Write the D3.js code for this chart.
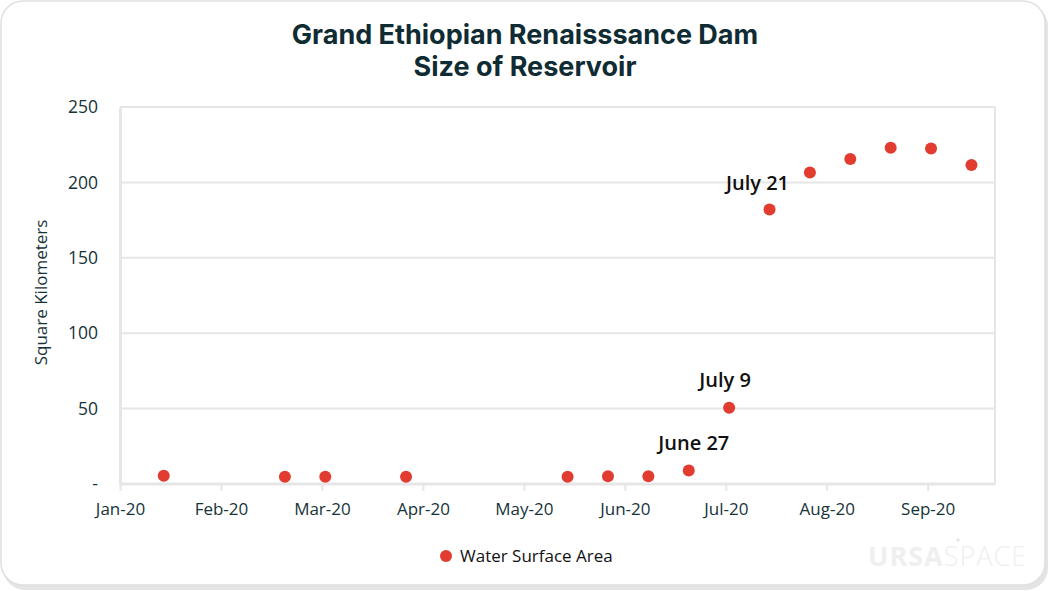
<!DOCTYPE html>
<html>
<head>
<meta charset="utf-8">
<script src="https://cdn.jsdelivr.net/npm/d3@7"></script>
<style>
  body { margin: 0; background: #fff; }
  svg { display: block; }
</style>
</head>
<body>
<div id="chart"></div>
<script>
const W = 1050, H = 591
const MARGIN = { TOP: 107, BOTTOM: 107, LEFT: 120, RIGHT: 55 }
const WIDTH = W - MARGIN.LEFT - MARGIN.RIGHT
const HEIGHT = H - MARGIN.TOP - MARGIN.BOTTOM

// data (12-day satellite cadence)
const dates = ["2020-01-23", "2020-02-28", "2020-03-11", "2020-04-04", "2020-05-22",
  "2020-06-03", "2020-06-15", "2020-06-27", "2020-07-09", "2020-07-21",
  "2020-08-02", "2020-08-14", "2020-08-26", "2020-09-07", "2020-09-19"]
const area = [5.5, 4.8, 4.8, 4.8, 4.8, 5.2, 5.2, 9, 50.5, 182, 206.5, 215.5, 223, 222.5, 211.5]
const tickDates = ["2020-01-10", "2020-02-09", "2020-03-10", "2020-04-09", "2020-05-09",
  "2020-06-08", "2020-07-08", "2020-08-07", "2020-09-06"]
const yTicks = [0, 50, 100, 150, 200, 250]
const notes = [
  { date: "2020-06-27", label: "June 27" },
  { date: "2020-07-09", label: "July 9" },
  { date: "2020-07-21", label: "July 21" }
]

const parse = d3.timeParse("%Y-%m-%d")
const data = dates.map((d, i) => ({ date: parse(d), value: area[i] }))

const RED = "#e23b30"
const INK = "#163339"
const AXIS_FONT = "'Open Sans', sans-serif"

const svg = d3.select("#chart").append("svg")
  .attr("width", W)
  .attr("height", H)

// card with soft shadow
svg.append("rect")
  .attr("x", 3).attr("y", 4).attr("width", W - 5).attr("height", H - 5)
  .attr("rx", 22).attr("fill", "#e4e4e4")
svg.append("rect")
  .attr("x", 1).attr("y", 1).attr("width", W - 6).attr("height", H - 7)
  .attr("rx", 22).attr("fill", "#fff").attr("stroke", "#e0e0e0").attr("stroke-width", 1.5)

svg.append("text")
  .attr("x", 525).attr("y", 44)
  .attr("text-anchor", "middle")
  .attr("font-family", "Inter, sans-serif")
  .attr("font-weight", 700)
  .attr("font-size", "27px")
  .attr("fill", "#0f2b33")
  .selectAll("tspan")
  .data(["Grand Ethiopian Renaisssance Dam", "Size of Reservoir"])
  .join("tspan")
    .attr("x", 525)
    .attr("dy", (d, i) => i ? 32 : 0)
    .text(d => d)

const g = svg.append("g")
  .attr("transform", `translate(${MARGIN.LEFT}, ${MARGIN.TOP})`)

const x = d3.scaleTime()
  .domain([parse("2020-01-10"), parse("2020-09-26")])
  .range([0, WIDTH])

const y = d3.scaleLinear()
  .domain([0, 250])
  .range([HEIGHT, 0])

// gridlines
g.append("g")
  .selectAll("line")
  .data(yTicks.filter(d => d > 0))
  .join("line")
    .attr("x1", 0).attr("x2", WIDTH)
    .attr("y1", d => y(d)).attr("y2", d => y(d))
    .attr("stroke", "#e6e6e6").attr("stroke-width", 2)

g.append("line")
  .attr("x1", WIDTH).attr("x2", WIDTH).attr("y1", 0).attr("y2", HEIGHT)
  .attr("stroke", "#e6e6e6").attr("stroke-width", 2)

const yAxisCall = d3.axisLeft(y)
  .tickValues(yTicks)
  .tickSize(0)
  .tickPadding(22)
  .tickFormat(d => d === 0 ? "-" : d)

const yAxisGroup = g.append("g").call(yAxisCall)
yAxisGroup.select(".domain").attr("stroke", "#e6e6e6").attr("stroke-width", 3)
yAxisGroup.selectAll("text")
  .attr("font-family", AXIS_FONT).attr("font-size", "17.5px").attr("fill", INK)

const xAxisCall = d3.axisBottom(x)
  .tickValues(tickDates.map(parse))
  .tickSize(7)
  .tickPadding(12)
  .tickFormat(d3.timeFormat("%b-%y"))

const xAxisGroup = g.append("g")
  .attr("transform", `translate(0, ${HEIGHT})`)
  .call(xAxisCall)
xAxisGroup.select(".domain").attr("stroke", "#e6e6e6").attr("stroke-width", 3)
  .attr("d", `M0,0H${WIDTH}`)
xAxisGroup.selectAll(".tick line").attr("stroke", "#e6e6e6").attr("stroke-width", 2)
xAxisGroup.selectAll("text")
  .attr("font-family", AXIS_FONT).attr("font-size", "17px").attr("fill", INK)

g.append("text")
  .attr("x", -(HEIGHT / 2) + 3)
  .attr("y", -73)
  .attr("transform", "rotate(-90)")
  .attr("text-anchor", "middle")
  .attr("font-family", AXIS_FONT)
  .attr("font-size", "17px")
  .attr("fill", INK)
  .text("Square Kilometers")

g.selectAll("circle.pt")
  .data(data)
  .join("circle")
    .attr("class", "pt")
    .attr("cx", d => x(d.date))
    .attr("cy", d => y(d.value))
    .attr("r", 6)
    .attr("fill", RED)

// annotations
const lookup = new Map(data.map(d => [+d.date, d.value]))
const noteOffset = { "June 27": [5, -20], "July 9": [-4, -21], "July 21": [-12, -20] }
g.selectAll("text.note")
  .data(notes)
  .join("text")
    .attr("class", "note")
    .attr("x", d => x(parse(d.date)) + noteOffset[d.label][0])
    .attr("y", d => y(lookup.get(+parse(d.date))) + noteOffset[d.label][1])
    .attr("text-anchor", "middle")
    .attr("font-family", AXIS_FONT)
    .attr("font-weight", 600)
    .attr("font-size", "20px")
    .attr("fill", "#111")
    .text(d => d.label)

// legend
const legend = svg.append("g").attr("transform", "translate(446, 556)")
legend.append("circle").attr("r", 6).attr("fill", RED)
legend.append("text")
  .attr("x", 14).attr("y", 6)
  .attr("font-family", AXIS_FONT).attr("font-size", "17px").attr("fill", "#111")
  .text("Water Surface Area")

// faint logo
const logo = svg.append("text")
  .attr("x", 868).attr("y", 566)
  .attr("font-family", AXIS_FONT)
  .attr("font-size", "27px")
  .attr("fill", "#efefef")
  .attr("letter-spacing", "1px")
logo.append("tspan").attr("font-weight", 700).text("URSA")
logo.append("tspan").attr("font-weight", 300).text("SPACE")
svg.append("circle").attr("cx", 958).attr("cy", 540).attr("r", 2).attr("fill", "#ececec")
</script>
</body>
</html>
